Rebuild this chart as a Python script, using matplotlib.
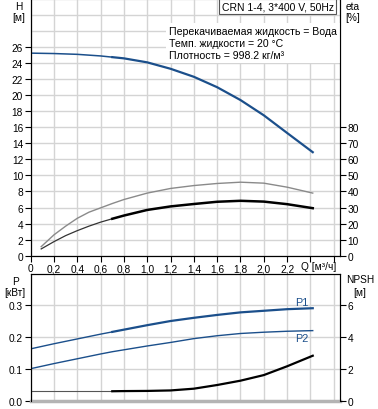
import matplotlib
matplotlib.use('Agg')
import matplotlib.pyplot as plt

plt.rcParams['font.family'] = ['Liberation Sans', 'DejaVu Sans']
plt.rcParams['font.size'] = 7.3

# ----- data -----
q = [0.0, 0.2, 0.4, 0.6, 0.7, 0.8, 1.0, 1.2, 1.4, 1.6, 1.8, 2.0, 2.2, 2.42]
head = [25.25, 25.2, 25.1, 24.9, 24.75, 24.6, 24.1, 23.3, 22.3, 21.0, 19.4, 17.5, 15.3, 12.9]
p1 = [0.162, 0.178, 0.193, 0.208, 0.215, 0.222, 0.236, 0.249, 0.259, 0.268, 0.276, 0.281, 0.286, 0.289]
p2 = [0.100, 0.116, 0.131, 0.146, 0.153, 0.159, 0.171, 0.182, 0.194, 0.203, 0.210, 0.214, 0.217, 0.219]
npsh = [0.59, 0.59, 0.59, 0.59, 0.59, 0.60, 0.61, 0.64, 0.75, 0.98, 1.25, 1.60, 2.15, 2.81]

q_eta = [0.09, 0.2, 0.3, 0.4, 0.5, 0.6, 0.7, 0.8, 1.0, 1.2, 1.4, 1.6, 1.8, 2.0, 2.2, 2.42]
eta_pump = [5.6, 13, 18.4, 23.3, 27.1, 29.8, 32.5, 35, 39, 41.9, 43.7, 45, 45.8, 45.2, 42.7, 39]
eta_total = [4.2, 8.75, 12.5, 15.6, 18.4, 20.9, 23.0, 25, 28.5, 30.7, 32.2, 33.6, 34.2, 33.7, 32.1, 29.6]

x_ticks = [0, 0.2, 0.4, 0.6, 0.8, 1.0, 1.2, 1.4, 1.6, 1.8, 2.0, 2.2, 2.4, 2.6]
x_labels = ['0', '0,2', '0,4', '0,6', '0,8', '1,0', '1,2', '1,4', '1,6', '1,8', '2,0', '2,2', '', '']
h_ticks = list(range(0, 27, 2))
eta_ticks = list(range(0, 81, 10))
p_ticks = [0.0, 0.1, 0.2, 0.3]
p_labels = ['0.0', '0.1', '0.2', '0.3']
npsh_ticks = [0, 2, 4, 6]

blue = '#1b4f8b'
grid_c = '#d4d4d4'
k = 4   # index of Q = 0.7 (start of the operating range) in q
ke = 6  # same in q_eta

fig = plt.figure(figsize=(3.78, 4.10), dpi=100)
xmax = 2.654

# ----- upper panel: H and eta -----
ax = fig.add_axes([0.0812, 0.374, 0.8183, 0.626])
ax.set_xlim(0, xmax)
ax.set_ylim(0, 32)
ax.set_xticks(x_ticks)
ax.set_xticklabels(x_labels)
ax.set_yticks(h_ticks)
for v in x_ticks:
    ax.axvline(v, color=grid_c, lw=1, zorder=0)
for v in range(0, 33, 2):
    ax.axhline(v, color=grid_c, lw=1, zorder=0)
ax.spines['top'].set_visible(False)
ax.tick_params(direction='out', length=4, width=0.8, pad=1.5)

ax.plot(q[:k + 1], head[:k + 1], color=blue, lw=1.1, zorder=3)
ax.plot(q[k:], head[k:], color=blue, lw=1.6, zorder=3)

ax2 = ax.twinx()
ax2.set_ylim(0, 160)
ax2.set_yticks(eta_ticks)
ax2.spines['top'].set_visible(False)
ax2.tick_params(direction='out', length=4, width=0.8, pad=1.5)
ax2.plot(q_eta, eta_pump, color='#8a8a8a', lw=1.0)
ax2.plot(q_eta[:ke + 1], eta_total[:ke + 1], color='#333333', lw=0.9)
ax2.plot(q_eta[ke:], eta_total[ke:], color='black', lw=1.8)

ax.text(2.47, -0.7, 'Q [м³/ч]', ha='center', va='top')

fig.text(0.05, 0.983, 'H', ha='center', va='center')
fig.text(0.05, 0.956, '[м]', ha='center', va='center')
fig.text(0.934, 0.983, 'eta', ha='center', va='center')
fig.text(0.934, 0.956, '[%]', ha='center', va='center')

ax.text(2.6, 31.7, 'CRN 1-4, 3*400 V, 50Hz', ha='right', va='top', zorder=5, fontsize=7.5,
        bbox=dict(boxstyle='square,pad=0.25', fc='white', ec='#555555', lw=0.8))
ax.text(1.19, 28.6, 'Перекачиваемая жидкость = Вода\nТемп. жидкости = 20 °C\nПлотность = 998.2 кг/м³',
        ha='left', va='top', linespacing=1.25, zorder=5, fontsize=7.6,
        bbox=dict(boxstyle='square,pad=0.3', fc='white', ec='none'))

# ----- lower panel: P and NPSH -----
bx = fig.add_axes([0.0812, 0.0203, 0.8183, 0.309])
bx.set_xlim(0, xmax)
bx.set_ylim(0, 0.396)
bx.set_xticks(x_ticks)
bx.set_xticklabels([])
bx.set_yticks(p_ticks)
bx.set_yticklabels(p_labels)
for v in x_ticks:
    bx.axvline(v, color=grid_c, lw=1, zorder=0)
for v in p_ticks:
    bx.axhline(v, color=grid_c, lw=1, zorder=0)
bx.spines['bottom'].set_color('#b4b4b4')
bx.spines['bottom'].set_linewidth(2.5)
bx.tick_params(axis='x', length=0)
bx.tick_params(axis='y', direction='out', length=4, width=0.8, pad=1.5)

bx.plot(q[:k + 1], p1[:k + 1], color=blue, lw=1.0)
bx.plot(q[k:], p1[k:], color=blue, lw=1.6)
bx.plot(q, p2, color=blue, lw=1.0)
bx.text(2.33, 0.293, 'P1', color=blue, ha='center', va='bottom', fontsize=7.8)
bx.text(2.33, 0.210, 'P2', color=blue, ha='center', va='top', fontsize=7.8)

bx2 = bx.twinx()
bx2.set_ylim(0, 7.92)
bx2.set_yticks(npsh_ticks)
bx2.spines['bottom'].set_visible(False)
bx2.tick_params(direction='out', length=4, width=0.8, pad=1.5)
bx2.plot(q[:k + 1], npsh[:k + 1], color='#555555', lw=0.8)
bx2.plot(q[k:], npsh[k:], color='black', lw=1.6)

fig.text(0.04, 0.313, 'P', ha='center', va='center')
fig.text(0.04, 0.285, '[кВт]', ha='center', va='center')
fig.text(0.952, 0.318, 'NPSH', ha='center', va='center')
fig.text(0.952, 0.286, '[м]', ha='center', va='center')

fig.savefig('out.png', dpi=100)
